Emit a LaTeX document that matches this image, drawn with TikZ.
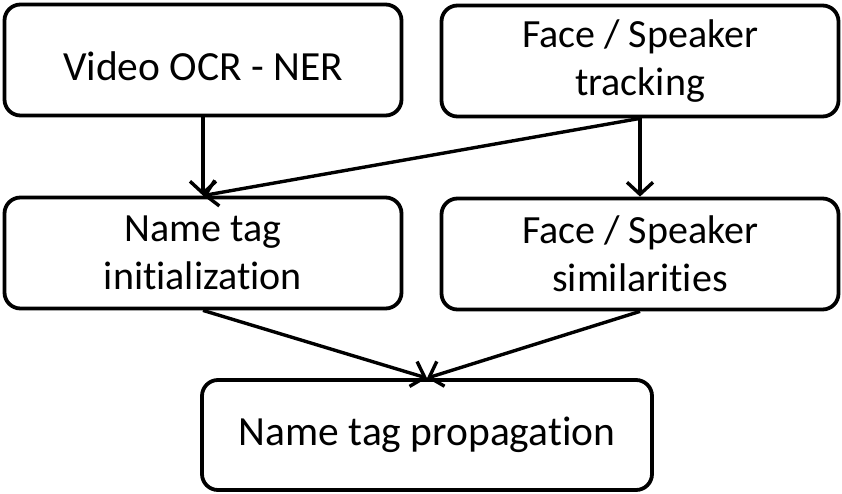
\documentclass[tikz,border=0pt]{standalone}
\usepackage{fontspec}
\setmainfont[Ligatures=NoCommon]{Carlito}
\usetikzlibrary{arrows.meta,positioning}
\definecolor{ink}{HTML}{000000}
\tikzset{
  stagebox/.style={draw=ink,fill=white,line width=3.8pt,rounded corners=16pt,
                   align=center,inner sep=4pt,minimum width=397pt,
                   minimum height=111pt,font=\fontsize{40}{48}\selectfont},
  widebox/.style={stagebox,font=\fontsize{41.5}{50}\selectfont},
  flowarr/.style={-{Straight Barb[length=12pt,width=26pt,line width=3.4pt]},
                  line width=3.4pt,draw=ink}
}
\begin{document}
\begin{tikzpicture}[x=1pt,y=-1pt]
    \path[use as bounding box,fill=white] (0,0) rectangle (842,494);
    \node[widebox,text height=42pt] (ocr) at (203,60) {Video OCR - NER};
    \node[stagebox] (track) at (640,61) {Face / Speaker\\tracking};

    \node[stagebox] (init) at (203,253) {Name tag\\initialization};
    \node[stagebox] (simil) at (640,254) {Face / Speaker\\similarities};

    \node[widebox,minimum width=450pt,minimum height=110pt] (prop) at (427,435)
      {Name tag propagation};

    \draw[flowarr] (ocr.south) -- (init.north);
    \draw[flowarr] (track.south) -- (simil.north);
    \draw[flowarr] (track.south) -- (init.north);
    \draw[flowarr] (init.south) -- (prop.north);
    \draw[flowarr] (simil.south) -- (prop.north);
  \end{tikzpicture}
\end{document}
